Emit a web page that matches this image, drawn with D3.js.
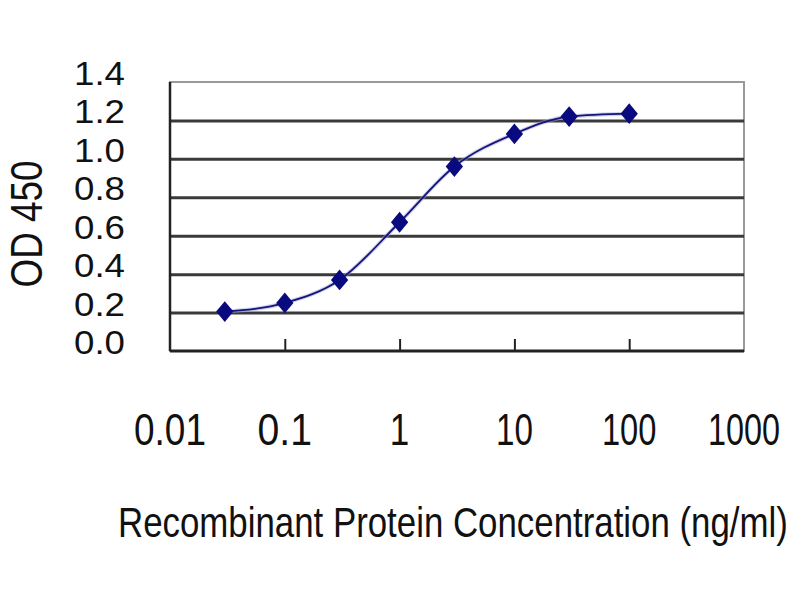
<!DOCTYPE html>
<html><head><meta charset="utf-8">
<script src="https://cdn.jsdelivr.net/npm/d3@7"></script>
<style>body{margin:0;background:#fff}svg{display:block}text{font-family:"Liberation Sans",Arial,sans-serif;fill:#111}</style>
</head><body><svg id="c" width="800" height="600"></svg>
<script>
const concentrations = [0.03, 0.1, 0.3, 1, 3, 10, 30, 100];
const od450 = [0.205, 0.25, 0.37, 0.67, 0.96, 1.13, 1.22, 1.235];
const xTicks = [0.01, 0.1, 1, 10, 100, 1000];
const xTickLabels = ["0.01", "0.1", "1", "10", "100", "1000"];
const yTicks = [0, 0.2, 0.4, 0.6, 0.8, 1.0, 1.2, 1.4];
const yTickLabels = ["0.0", "0.2", "0.4", "0.6", "0.8", "1.0", "1.2", "1.4"];
const xTitle = "Recombinant Protein Concentration (ng/ml)";
const yTitle = "OD 450";

const svg = d3.select("#c");
const L = 170, R = 744, T = 82, B = 351;
const x = d3.scaleLog().domain([0.01, 1000]).range([L, R]);
const y = d3.scaleLinear().domain([0, 1.4]).range([B, T]);

// squeeze a text horizontally to a target width via transform
function squeeze(sel, tx, ty, target, anchor, rot) {
  sel.each(function (d, i) {
    const w = this.getComputedTextLength();
    const t = typeof target === "function" ? target(d, i) : target;
    const px = typeof tx === "function" ? tx(d, i) : tx;
    const py = typeof ty === "function" ? ty(d, i) : ty;
    d3.select(this).attr("text-anchor", anchor)
      .attr("transform", `translate(${px},${py})${rot ? " rotate(" + rot + ")" : ""} scale(${t / w},1)`);
  });
}

// plot frame (light top/right)
svg.append("rect").attr("x", L).attr("y", T).attr("width", R - L).attr("height", B - T)
  .attr("fill", "#fff").attr("stroke", "#9a9a9a").attr("stroke-width", 2);

// gridlines
const grid = d3.axisLeft(y).tickValues(yTicks.slice(1, -1)).tickSize(-(R - L)).tickFormat("");
svg.append("g").attr("transform", `translate(${L},0)`).call(grid)
  .call(g => g.select(".domain").remove())
  .call(g => g.selectAll("line").attr("stroke", "#3a3a3a").attr("stroke-width", 3));

// x axis with inner ticks
const xAxis = d3.axisTop(x).tickValues(xTicks.slice(1, -1)).tickSize(12).tickFormat("");
svg.append("g").attr("transform", `translate(0,${B})`).call(xAxis)
  .call(g => g.select(".domain").remove())
  .call(g => g.selectAll("line").attr("stroke", "#222").attr("stroke-width", 2));
svg.append("line").attr("x1", L).attr("x2", R).attr("y1", B).attr("y2", B).attr("stroke", "#222").attr("stroke-width", 3);
svg.append("line").attr("x1", L).attr("x2", L).attr("y1", T).attr("y2", B).attr("stroke", "#222").attr("stroke-width", 2.5);

// x tick labels
svg.append("g").selectAll("text").data(xTicks).join("text")
  .attr("font-size", 44)
  .text((d, i) => xTickLabels[i])
  .call(squeeze, d => x(d), 445, (d, i) => xTickLabels[i].length * 17.5 + 2, "middle");

// y tick labels
svg.append("g").selectAll("text").data(yTicks).join("text")
  .attr("font-size", 34)
  .text((d, i) => yTickLabels[i])
  .call(squeeze, 125, d => y(d) + 3, 51, "end");

// titles
svg.append("text").attr("font-size", 42).text(xTitle)
  .call(squeeze, 118, 537, 670, "start");
svg.append("text").attr("font-size", 45).text(yTitle)
  .call(squeeze, 42, 224, 127, "middle", -90);

// curve
const pts = concentrations.map((c, i) => [c, od450[i]]);
const line = d3.line().x(d => x(d[0])).y(d => y(d[1])).curve(d3.curveMonotoneX);
svg.append("path").datum(pts).attr("d", line).attr("fill", "none")
  .attr("stroke", "#9fa3d8").attr("stroke-width", 4).attr("opacity", 0.5);
svg.append("path").datum(pts).attr("d", line).attr("fill", "none")
  .attr("stroke", "#14147a").attr("stroke-width", 1.8);

// diamond markers
const diamond = { draw(ctx, size) { const w = Math.sqrt(size) / 2, h = w * 1.2;
  ctx.moveTo(0, -h); ctx.lineTo(w, 0); ctx.lineTo(0, h); ctx.lineTo(-w, 0); ctx.closePath(); } };
svg.append("g").selectAll("path").data(pts).join("path")
  .attr("transform", d => `translate(${x(d[0])},${y(d[1])})`)
  .attr("d", d3.symbol(diamond, 300)).attr("fill", "#0a0a80");
</script></body></html>
